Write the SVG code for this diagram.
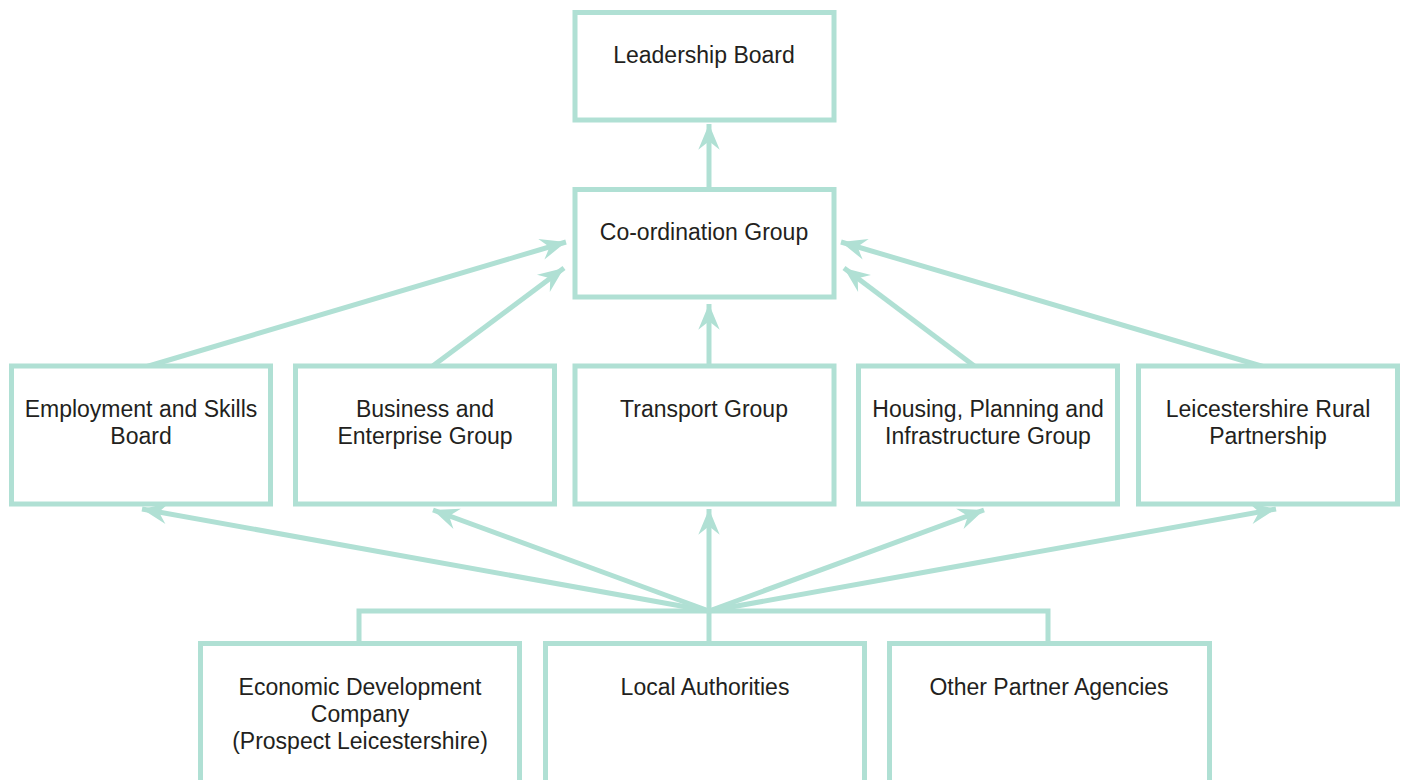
<svg xmlns="http://www.w3.org/2000/svg" width="1404" height="780" viewBox="0 0 1404 780">
<style>
.box{fill:#ffffff;stroke:#b0e0d4;stroke-width:5}
.ln{fill:none;stroke:#b0e0d4;stroke-width:5}
.t{font-family:"Liberation Sans",Arial,sans-serif;font-size:23px;fill:#231f20;text-anchor:middle}
</style>
<defs>
<marker id="ah" markerUnits="userSpaceOnUse" markerWidth="30" markerHeight="30" viewBox="-26 -12 28 24" refX="0" refY="0" orient="auto">
<path d="M0,0 L-24,-10 L-16,0 L-24,10 Z" fill="#b0e0d4"/>
</marker>
</defs>
<rect width="1404" height="780" fill="#ffffff"/>
<g id="connectors">
<line class="ln" x1="709" y1="189" x2="709" y2="124" marker-end="url(#ah)"/>
<line class="ln" x1="142" y1="368" x2="566" y2="242" marker-end="url(#ah)"/>
<line class="ln" x1="430" y1="368" x2="564" y2="268" marker-end="url(#ah)"/>
<line class="ln" x1="709" y1="366" x2="709" y2="304" marker-end="url(#ah)"/>
<line class="ln" x1="977" y1="368" x2="844" y2="268" marker-end="url(#ah)"/>
<line class="ln" x1="1268" y1="368" x2="841" y2="242" marker-end="url(#ah)"/>
<polyline class="ln" points="359,643 359,611 1048,611 1048,643"/>
<line class="ln" x1="709" y1="611" x2="709" y2="643"/>
<line class="ln" x1="709" y1="611" x2="142" y2="509" marker-end="url(#ah)"/>
<line class="ln" x1="709" y1="611" x2="433" y2="510" marker-end="url(#ah)"/>
<line class="ln" x1="709" y1="611" x2="709" y2="509" marker-end="url(#ah)"/>
<line class="ln" x1="709" y1="611" x2="984" y2="510" marker-end="url(#ah)"/>
<line class="ln" x1="709" y1="611" x2="1276" y2="509" marker-end="url(#ah)"/>
</g>
<g id="leadership-board">
<rect class="box" x="575" y="12.5" width="259" height="107.5"/>
<text class="t" x="704" y="63">Leadership Board</text>
</g>
<g id="coordination-group">
<rect class="box" x="575" y="189.5" width="259" height="107.5"/>
<text class="t" x="704" y="240">Co-ordination Group</text>
</g>
<g id="employment-skills-board">
<rect class="box" x="11.5" y="366" width="259" height="138"/>
<text class="t" x="141" y="417">Employment and Skills</text>
<text class="t" x="141" y="444">Board</text>
</g>
<g id="business-enterprise-group">
<rect class="box" x="295.5" y="366" width="259" height="138"/>
<text class="t" x="425" y="417">Business and</text>
<text class="t" x="425" y="444">Enterprise Group</text>
</g>
<g id="transport-group">
<rect class="box" x="575" y="366" width="259" height="138"/>
<text class="t" x="704" y="417">Transport Group</text>
</g>
<g id="housing-planning-infrastructure-group">
<rect class="box" x="858.5" y="366" width="259" height="138"/>
<text class="t" x="988" y="417">Housing, Planning and</text>
<text class="t" x="988" y="444">Infrastructure Group</text>
</g>
<g id="leicestershire-rural-partnership">
<rect class="box" x="1138.5" y="366" width="259" height="138"/>
<text class="t" x="1268" y="417">Leicestershire Rural</text>
<text class="t" x="1268" y="444">Partnership</text>
</g>
<g id="economic-development-company">
<rect class="box" x="200.5" y="643.5" width="319" height="150"/>
<text class="t" x="360" y="695">Economic Development</text>
<text class="t" x="360" y="722">Company</text>
<text class="t" x="360" y="749">(Prospect Leicestershire)</text>
</g>
<g id="local-authorities">
<rect class="box" x="545.5" y="643.5" width="319" height="150"/>
<text class="t" x="705" y="695">Local Authorities</text>
</g>
<g id="other-partner-agencies">
<rect class="box" x="889.5" y="643.5" width="320" height="150"/>
<text class="t" x="1049" y="695">Other Partner Agencies</text>
</g>
</svg>
